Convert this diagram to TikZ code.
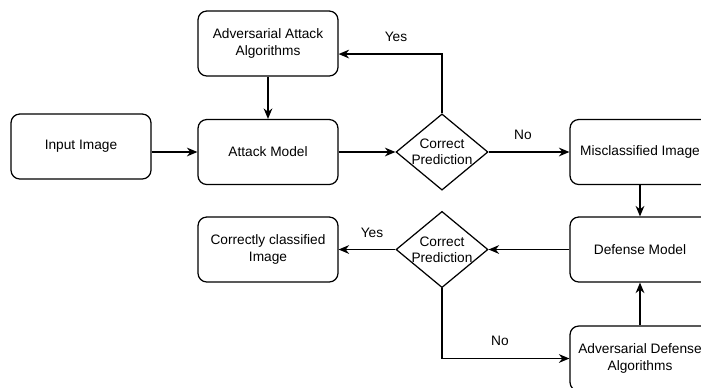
\documentclass[tikz,border=0pt]{standalone}
\usepackage{fontspec}
\setmainfont{Liberation Sans}
\usetikzlibrary{shapes.geometric,arrows.meta}

\tikzset{
  block/.style={draw,rounded corners=5pt,line width=0.7pt,minimum width=2.8cm,minimum height=1.3cm,align=center,font=\fontsize{7.8}{9.2}\selectfont},
  decision/.style={draw,diamond,line width=0.7pt,minimum width=1.84cm,minimum height=1.52cm,inner sep=-1.5pt,align=center,font=\fontsize{7.8}{9.2}\selectfont},
  arr/.style={line width=0.7pt,-{Stealth[length=6pt,width=5pt]}},
  lbl/.style={font=\fontsize{7.8}{9.2}\selectfont}
}

\begin{document}
\begin{tikzpicture}[x=0.02cm,y=-0.02cm]
		\useasboundingbox (0,0) rectangle (701,387);
		% top row
		\node[block] (alg) at (268,43.5) {Adversarial Attack\\Algorithms};
		\node[block] (inp) at (81,146.5) {Input Image};
		\node[block] (atk) at (268,152) {Attack Model};
		\node[decision] (dec1) at (442,152) {Correct\\Prediction};
		\node[block] (mis) at (640,152) {Misclassified Image};
	
		% bottom row
		\node[block] (def) at (640,249.5) {Defense Model};
		\node[decision] (dec2) at (442,249.5) {Correct\\Prediction};
		\node[block] (cor) at (268,249.5) {Correctly classified\\Image};
		\node[block] (ada) at (640,358.5) {Adversarial Defense\\Algorithms};
		
		\draw[arr] (inp.east |- atk.west) -- (atk.west);
		\draw[arr] (alg) -- (atk);
		\draw[arr] (atk) -- (dec1);
		\draw[arr] (dec1.north) |- ([yshift=-6pt]alg.east);
		\draw[arr] (dec1) -- (mis);
		\draw[arr] (mis) -- (def);
		\draw[arr] (def) -- (dec2);
		\draw[arr] (dec2) -- (cor);
		\draw[arr] (dec2.south) |- (ada.west);
		\draw[arr] (ada) -- (def);
		
		\node[lbl] (yes1) at (396,37) {Yes};
		\node[lbl] (no1) at (523,135) {No};
		\node[lbl] (yes2) at (372,233) {Yes};
		\node[lbl] (no2) at (500,341) {No};
    	\end{tikzpicture}
\end{document}
